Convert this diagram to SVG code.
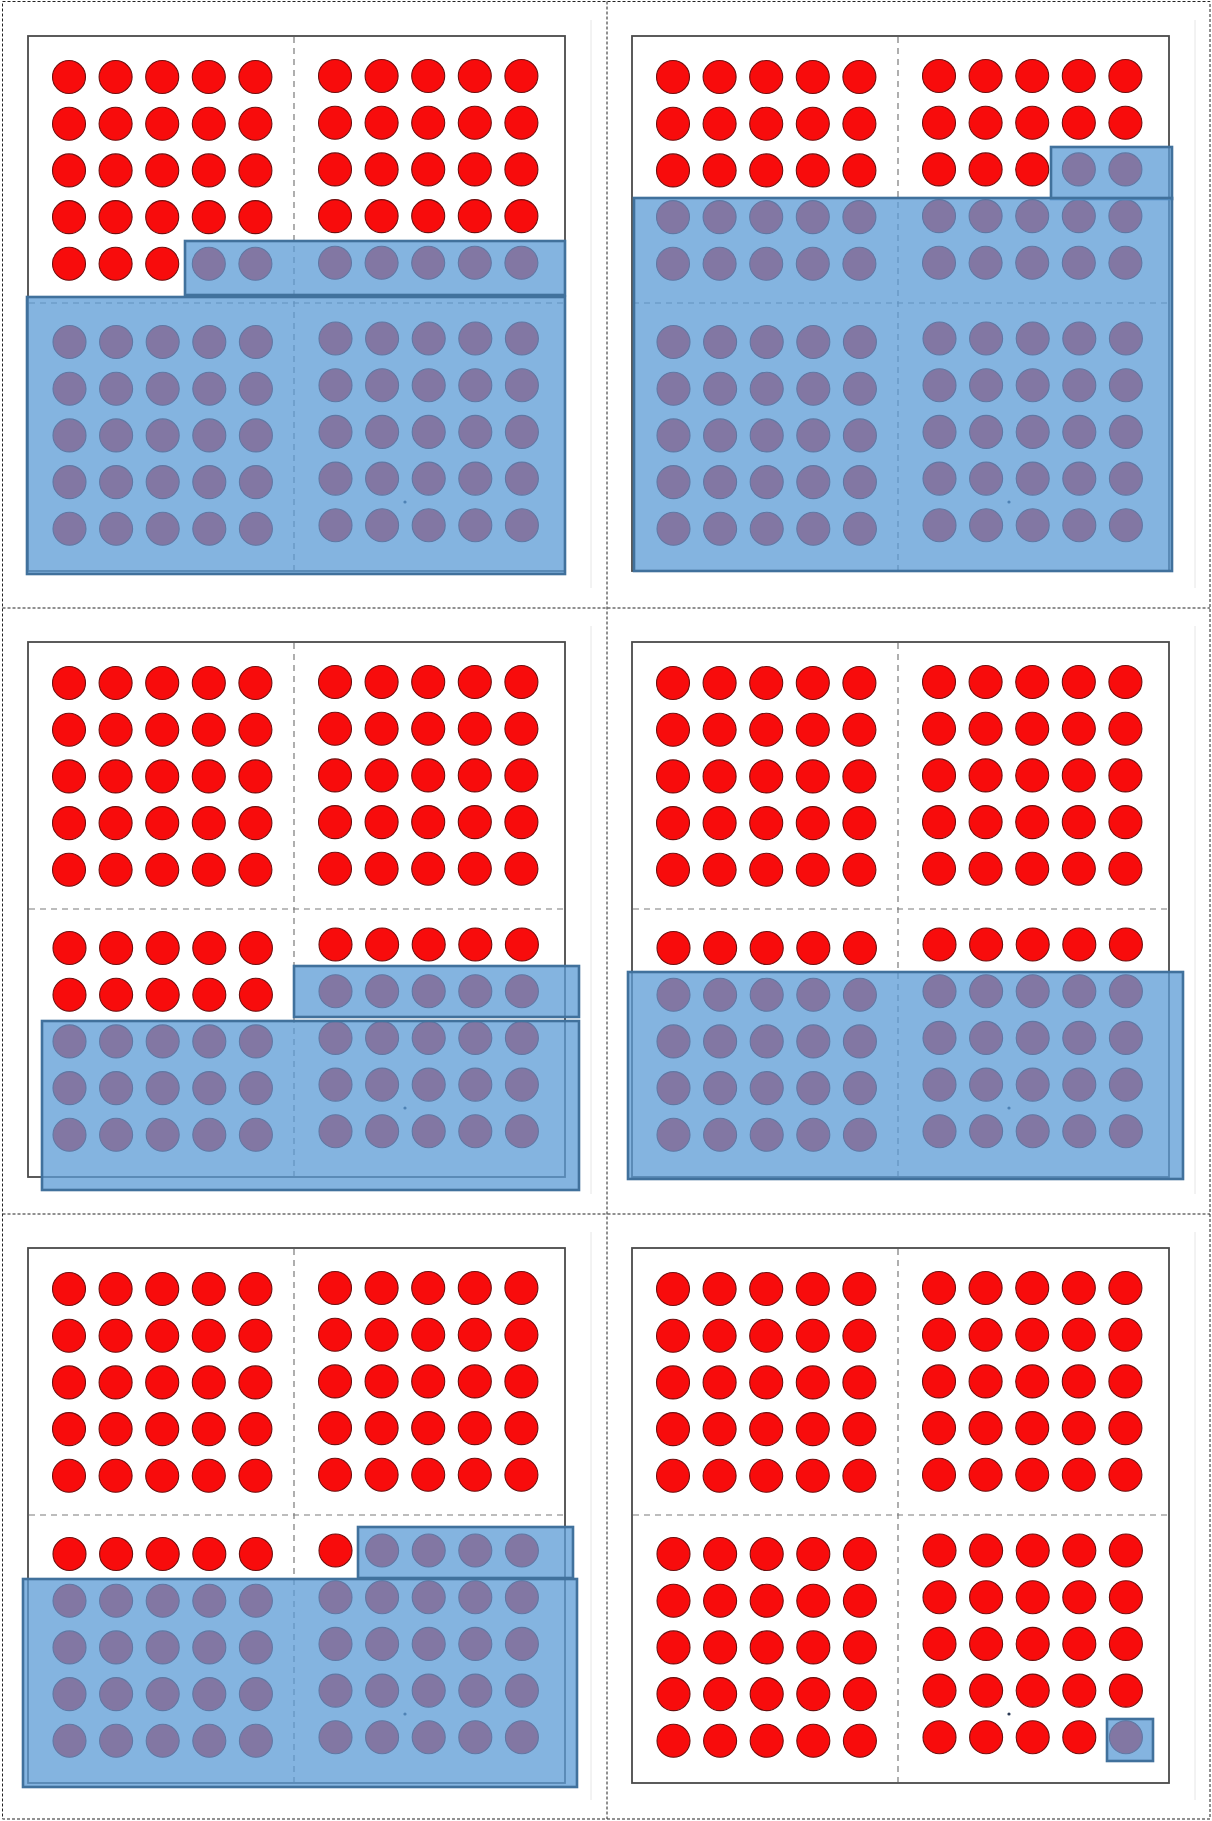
<svg xmlns="http://www.w3.org/2000/svg" xmlns:xlink="http://www.w3.org/1999/xlink" width="1212" height="1821" viewBox="0 0 1212 1821">
<style>
.cell{fill:none;stroke:#222;stroke-width:1;stroke-dasharray:3 2}
.frame{fill:none;stroke:#4a4a4a;stroke-width:1.8}
.div{stroke:#7a7a7a;stroke-width:1.2;stroke-dasharray:6 5;fill:none}
.dot{fill:#f80c0c;stroke:#6e0f0f;stroke-width:1.1}
.ov{fill:#5B9BD5;fill-opacity:0.75;stroke:#41719C;stroke-width:2.6}
.edge{stroke:#e6e6e6;stroke-width:1}
.speck{fill:#2a3a55}
</style>
<defs>
<g id="row">
<circle class="dot" cx="0" cy="0" r="16.5"/>
<circle class="dot" cx="46.6" cy="0" r="16.5"/>
<circle class="dot" cx="93.2" cy="0" r="16.5"/>
<circle class="dot" cx="139.8" cy="0" r="16.5"/>
<circle class="dot" cx="186.4" cy="0" r="16.5"/>
</g>
<g id="quad">
<use href="#row" y="0"/>
<use href="#row" y="46.7"/>
<use href="#row" y="93.4"/>
<use href="#row" y="140.1"/>
<use href="#row" y="186.8"/>
</g>
<g id="board">
<line class="edge" x1="591" y1="20" x2="591" y2="588"/>
<rect x="28" y="36" width="537" height="535" fill="#fff"/>
<rect class="frame" x="28" y="36" width="537" height="535"/>
<line class="div" x1="294" y1="37" x2="294" y2="570"/>
<line class="div" x1="29" y1="303" x2="564" y2="303"/>
<use href="#quad" x="69" y="77"/>
<use href="#quad" x="335" y="76"/>
<use href="#quad" x="69.5" y="342"/>
<use href="#quad" x="335.5" y="338.5"/>
<circle class="speck" cx="405" cy="502" r="1.6"/>
</g>
</defs>
<rect width="1212" height="1821" fill="#fff"/>
<g id="table-grid">
<rect class="cell" x="2.5" y="1.5" width="1207.5" height="1817.5"/>
<line class="cell" x1="607" y1="1.5" x2="607" y2="1819"/>
<line class="cell" x1="2.5" y1="608" x2="1210" y2="608"/>
<line class="cell" x1="2.5" y1="1214" x2="1210" y2="1214"/>
</g>
<g id="panel-1">
<use href="#board"/>
<rect class="ov" x="185" y="241" width="380" height="54"/>
<rect class="ov" x="27" y="297" width="538" height="277"/>
</g>
<g id="panel-2">
<use href="#board" x="604" y="0"/>
<rect class="ov" x="1051" y="147" width="121" height="52"/>
<rect class="ov" x="634" y="198" width="538" height="373"/>
</g>
<g id="panel-3">
<use href="#board" x="0" y="606"/>
<rect class="ov" x="294" y="966" width="285" height="51"/>
<rect class="ov" x="42" y="1021" width="537" height="169"/>
</g>
<g id="panel-4">
<use href="#board" x="604" y="606"/>
<rect class="ov" x="628" y="972" width="555" height="207"/>
</g>
<g id="panel-5">
<use href="#board" x="0" y="1212"/>
<rect class="ov" x="358" y="1527" width="215" height="51"/>
<rect class="ov" x="23" y="1579" width="554" height="208"/>
</g>
<g id="panel-6">
<use href="#board" x="604" y="1212"/>
<rect class="ov" x="1107" y="1719" width="46" height="42"/>
</g>
</svg>
